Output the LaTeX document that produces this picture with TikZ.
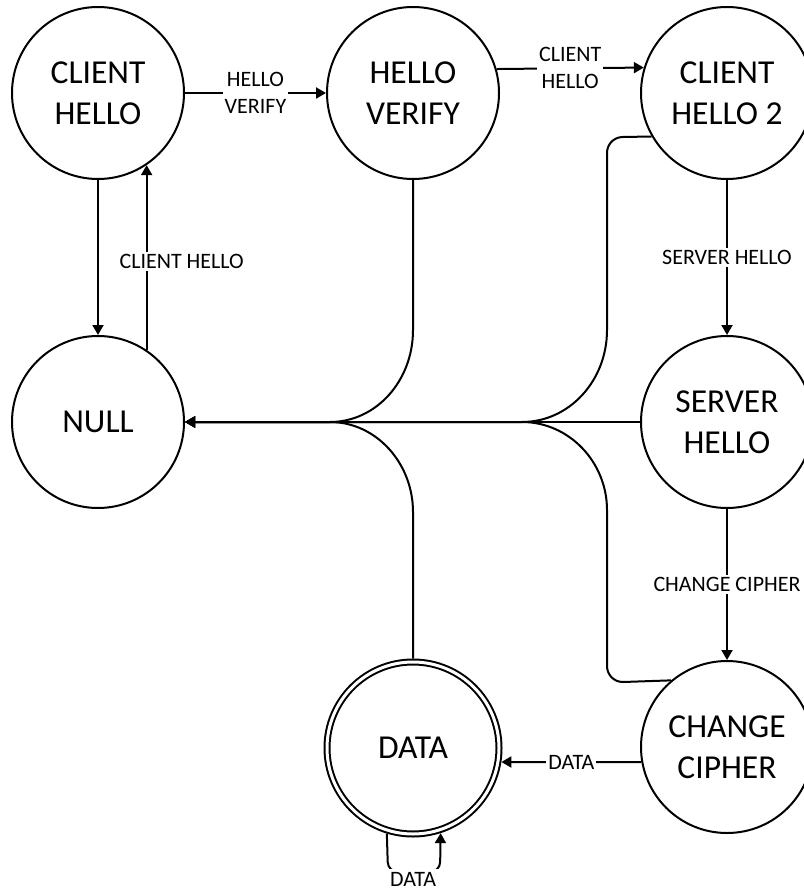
\documentclass[tikz,border=0pt]{standalone}
\usepackage{fontspec}
\setmainfont{Carlito}
\usetikzlibrary{arrows.meta}
\begin{document}
\begin{tikzpicture}[x=1pt,y=-1pt,
  state/.style={circle,draw,line width=2pt,minimum size=172pt,inner sep=0pt,align=center,font=\fontsize{33.5}{41}\selectfont},
  lbl/.style={fill=white,inner sep=2pt,align=center,font=\fontsize{22}{27}\selectfont},
  arr/.style={line width=2pt,-{Triangle[length=10pt,width=11pt]}},
  ln/.style={line width=2pt}]
\useasboundingbox (0,0) rectangle (803,890);
% states
\node[state] (ch)   at (98,93)  {CLIENT\\HELLO};
\node[state] (hv)   at (413,93) {HELLO\\VERIFY};
\node[state] (ch2)  at (727,93) {CLIENT\\HELLO 2};
\node[state] (null) at (98,422) {NULL};
\node[state] (sh)   at (727,422) {SERVER\\HELLO};
\node[state] (cc)   at (727,747) {CHANGE\\CIPHER};
\node[state,double,double distance=3pt,outer sep=3.5pt] (data) at (413,748) {DATA};
% merge points
\coordinate (m1) at (330,422);
\coordinate (m2) at (522,422);
% forward transitions
\draw[arr] (ch.east) -- (hv.west) node[lbl,midway]{HELLO\\VERIFY};
\draw[arr] (hv.16.9) -- (ch2.163.1) node[lbl,midway]{CLIENT\\HELLO};
\draw[arr] (ch.south) -- (null.north);
\draw[arr] (null.56) -- (ch.-56) node[lbl,midway,xshift=35pt,yshift=-4pt]{CLIENT HELLO};
\draw[arr] (ch2.south) -- (sh.north) node[lbl,midway]{SERVER HELLO};
\draw[arr] (sh.south) -- (cc.north) node[lbl,midway]{CHANGE CIPHER};
\draw[arr] (cc.190) -- (data.-9) node[lbl,midway]{DATA};
% returns to NULL
\draw[arr] (hv.south) -- (413,330) .. controls (413,381) and (376,422) .. (m1) -- (null.east);
\draw[arr] (data.north) -- (413,512) .. controls (413,463) and (376,422) .. (m1) -- (null.east);
\draw[arr] (ch2.210.8) -- (623,137) .. controls (614,137) and (607,144) .. (607,153) -- (607,330) .. controls (607,381) and (569,422) .. (m2) -- (null.east);
\draw[arr] (cc.130.9) -- (623,682) .. controls (614,682) and (607,675) .. (607,666) -- (607,510) .. controls (607,462) and (569,422) .. (m2) -- (null.east);
\draw[arr] (sh.west) -- (null.east);
% self loop
\draw[arr,rounded corners=10pt] (data.253.7) -- (388,872) -- (440,872) -- (data.-72.3);
\node[lbl,inner sep=3pt] (dl) at (413,879) {DATA};
\end{tikzpicture}
\end{document}
